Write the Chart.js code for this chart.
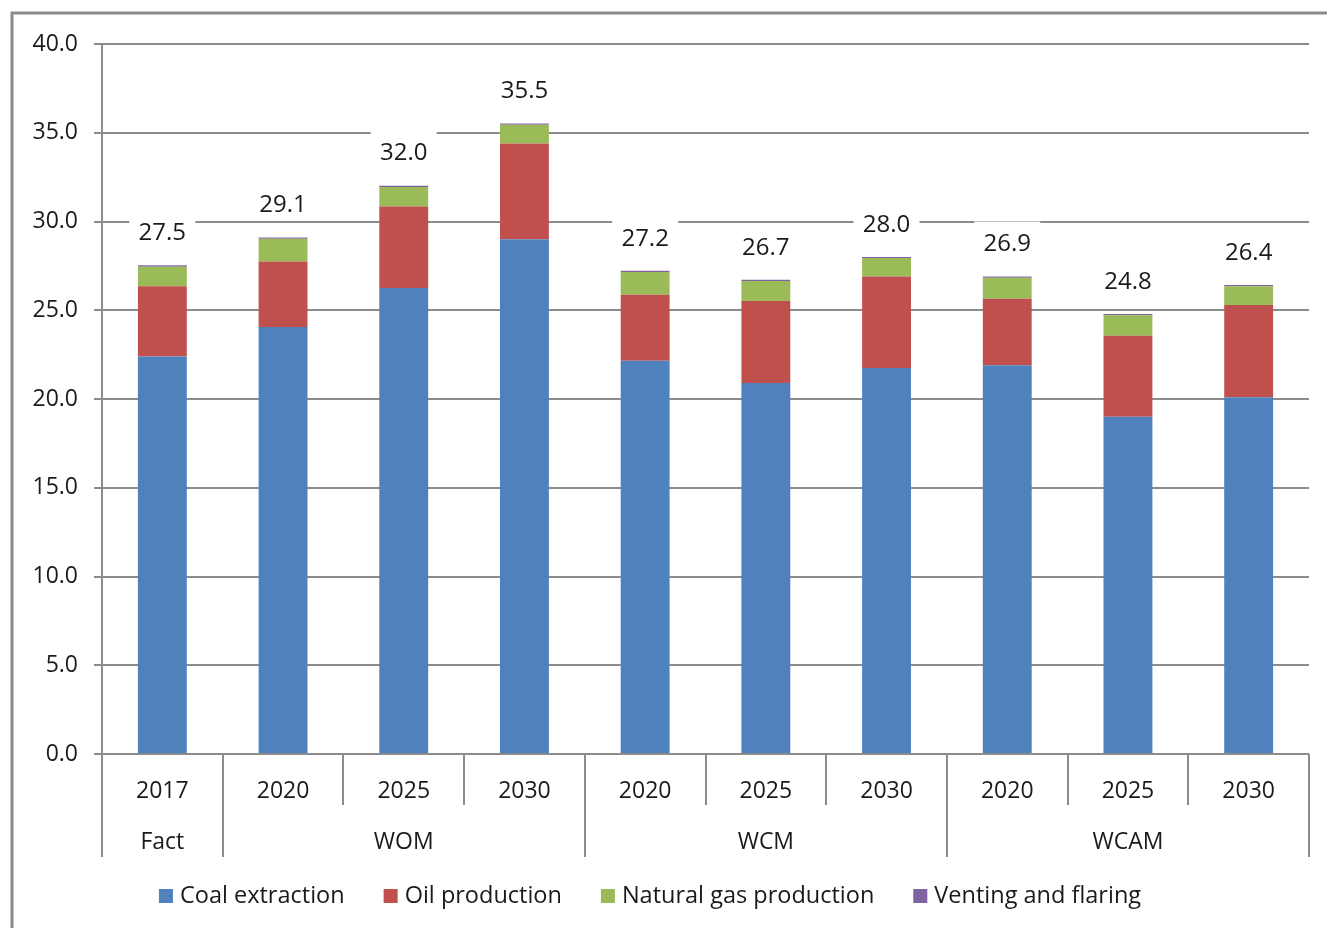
<!DOCTYPE html>
<html>
<head>
<meta charset="utf-8">
<script src="https://cdn.jsdelivr.net/npm/chart.js@4.4.1/dist/chart.umd.min.js"></script>
<style>
  html, body { margin: 0; padding: 0; background: #ffffff; }
  #wrap { width: 1327px; height: 928px; position: relative; }
</style>
</head>
<body>
<div id="wrap"><canvas id="c" width="1327" height="928"></canvas></div>
<script>
// ---- data ----
const categories = ['2017', '2020', '2025', '2030', '2020', '2025', '2030', '2020', '2025', '2030'];
const groupNames = ['Fact', 'WOM', 'WCM', 'WCAM'];
const groupSizes = [1, 3, 3, 3];
const seriesNames = ['Coal extraction', 'Oil production', 'Natural gas production', 'Venting and flaring'];
const coal = [22.4, 24.05, 26.25, 29.0, 22.15, 20.9, 21.75, 21.9, 19.0, 20.1];
const oil  = [3.95, 3.7, 4.6, 5.4, 3.73, 4.62, 5.15, 3.75, 4.57, 5.2];
const gas  = [1.1, 1.28, 1.1, 1.05, 1.27, 1.13, 1.05, 1.18, 1.15, 1.05];
const vent = [0.08, 0.07, 0.07, 0.07, 0.07, 0.07, 0.05, 0.07, 0.07, 0.07];
const yTicks = [0, 5, 10, 15, 20, 25, 30, 35, 40];

const colors = ['#4F81BD', '#C0504D', '#9BBB59', '#8064A2'];
const FONT = '"Open Sans", "Noto Sans", sans-serif';
const TEXT = '#1a1a1a';
const GRID = '#8c8c8c';

const seriesData = [coal, oil, gas, vent];

const framePlugin = {
  id: 'frame',
  beforeDraw(chart) {
    const ctx = chart.ctx;
    ctx.save();
    ctx.strokeStyle = '#8a8a8a';
    ctx.lineWidth = 3;
    ctx.beginPath();
    ctx.moveTo(12, 930);
    ctx.lineTo(12, 13);
    ctx.lineTo(1330, 13);
    ctx.stroke();
    ctx.restore();
  }
};

const overlayPlugin = {
  id: 'overlay',
  afterDatasetsDraw(chart) {
    const ctx = chart.ctx;
    const x = chart.scales.x, y = chart.scales.y;
    const area = chart.chartArea;
    ctx.save();
    // total labels with white boxes
    ctx.font = '24px ' + FONT;
    ctx.textAlign = 'center';
    ctx.textBaseline = 'middle';
    categories.forEach((c, i) => {
      const total = seriesData.reduce((s, arr) => s + arr[i], 0);
      const px = x.getPixelForValue(i);
      const py = y.getPixelForValue(total) - 33;
      ctx.fillStyle = '#ffffff';
      ctx.fillRect(px - 33, py - 22, 66, 38);
      ctx.fillStyle = TEXT;
      ctx.fillText(total.toFixed(1), px, py + 1);
    });

    // x axis separators
    const bottom = area.bottom;
    const half = (x.getPixelForValue(1) - x.getPixelForValue(0)) / 2;
    const boundaries = [];
    for (let i = 0; i <= categories.length; i++) {
      boundaries.push(i === 0 ? x.getPixelForValue(0) - half : x.getPixelForValue(i - 1) + half);
    }
    const groupEdges = [0];
    groupSizes.forEach(s => groupEdges.push(groupEdges[groupEdges.length - 1] + s));
    ctx.strokeStyle = GRID;
    ctx.lineWidth = 2;
    boundaries.forEach((bx, i) => {
      const long = groupEdges.includes(i);
      ctx.beginPath();
      ctx.moveTo(Math.round(bx), bottom);
      ctx.lineTo(Math.round(bx), bottom + (long ? 103 : 51));
      ctx.stroke();
    });
    // year labels
    ctx.fillStyle = TEXT;
    ctx.font = '23px ' + FONT;
    categories.forEach((c, i) => {
      ctx.fillText(c, x.getPixelForValue(i), bottom + 37);
    });
    // group labels
    groupNames.forEach((g, gi) => {
      const a = boundaries[groupEdges[gi]], b = boundaries[groupEdges[gi + 1]];
      ctx.fillText(g, (a + b) / 2, bottom + 88);
    });

    // legend
    ctx.font = '23.5px ' + FONT;
    ctx.textAlign = 'left';
    const box = 14, gapBT = 7, gapItems = 39;
    const widths = seriesNames.map(n => box + gapBT + ctx.measureText(n).width);
    const total = widths.reduce((a, b) => a + b, 0) + gapItems * (seriesNames.length - 1);
    let lx = 650 - total / 2;
    const ly = 896;
    seriesNames.forEach((n, i) => {
      ctx.fillStyle = colors[i];
      ctx.fillRect(lx, ly - box / 2, box, box);
      ctx.fillStyle = TEXT;
      ctx.fillText(n, lx + box + gapBT, ly);
      lx += widths[i] + gapItems;
    });
    ctx.restore();
  }
};

new Chart(document.getElementById('c'), {
  type: 'bar',
  data: {
    labels: categories,
    datasets: seriesNames.map((n, i) => ({
      label: n,
      data: seriesData[i],
      backgroundColor: colors[i],
      borderWidth: 0,
      categoryPercentage: 1.0,
      barPercentage: 0.405
    }))
  },
  options: {
    responsive: false,
    animation: false,
    devicePixelRatio: 1,
    layout: { padding: { left: 0, right: 18, top: 44, bottom: 174 } },
    plugins: { legend: { display: false }, tooltip: { enabled: false } },
    scales: {
      x: {
        stacked: true,
        display: false
      },
      y: {
        stacked: true,
        min: 0,
        max: 40,
        afterBuildTicks(scale) { scale.ticks = yTicks.map(v => ({ value: v })); },
        afterFit(scale) { scale.width = 102; },
        border: { display: true, color: GRID, width: 2 },
        grid: { color: GRID, lineWidth: 2, tickLength: 8, drawTicks: true },
        ticks: {
          color: TEXT,
          font: { family: FONT, size: 23 },
          padding: 16,
          callback: v => Number(v).toFixed(1)
        }
      }
    }
  },
  plugins: [framePlugin, overlayPlugin]
});
</script>
</body>
</html>
